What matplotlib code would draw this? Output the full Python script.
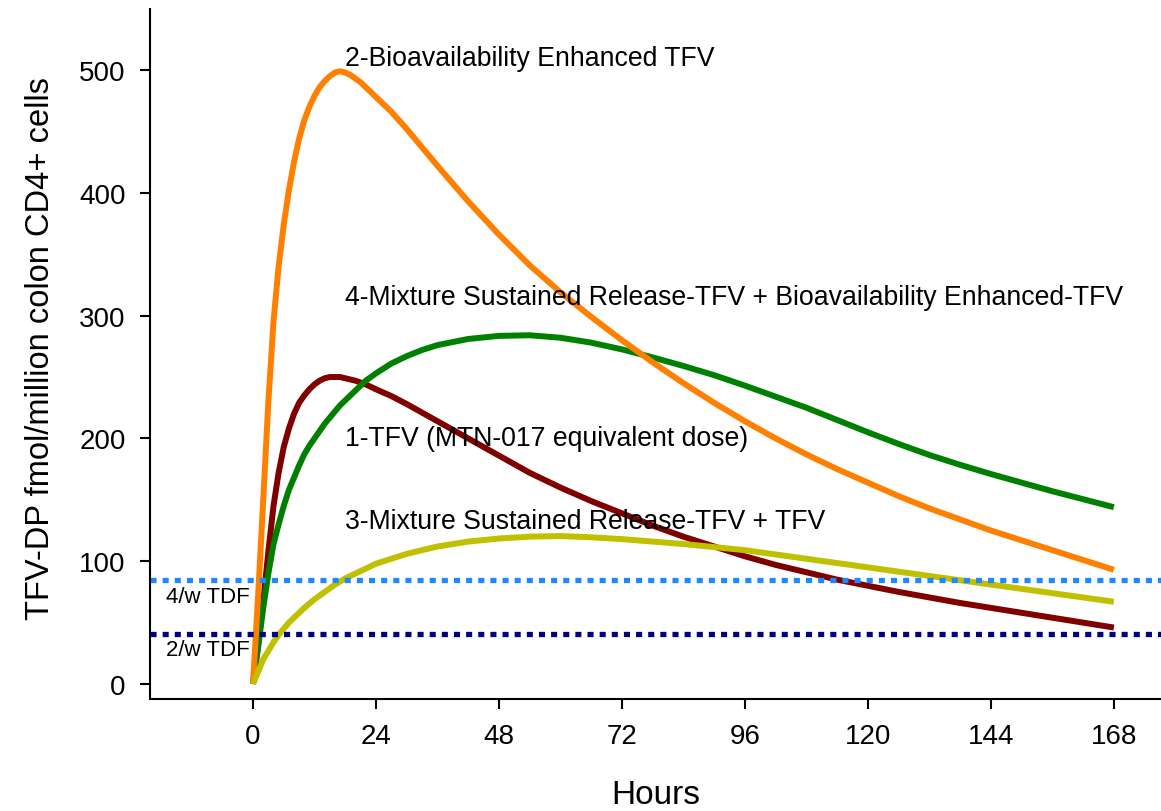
import numpy as np
import matplotlib
matplotlib.use("Agg")
import matplotlib.pyplot as plt

plt.rcParams['font.family'] = ['Liberation Sans', 'DejaVu Sans']

# hours after dose
hours = [0, 1, 2, 3, 4, 5, 6, 7, 8, 9, 10, 11, 12, 13, 14, 15, 16, 17, 18, 19, 20, 21, 22, 23, 24,
         27, 30, 33, 36, 42, 48, 54, 60, 66, 72, 78, 84, 90, 96, 102, 108, 114, 120, 126, 132,
         138, 144, 150, 156, 162, 168]

# TFV-DP fmol/million colon CD4+ cells
tfv_1 = [0, 32, 67, 108, 145, 172, 193, 208, 220, 229, 235, 240, 244, 247, 249, 250, 250, 250, 249, 248,
         247, 245.5, 244, 242, 240,
         234.5, 228, 221, 214, 200, 186, 172, 160, 149, 139, 129, 120, 112, 104, 97, 91, 85, 80, 75, 70.5,
         66, 62, 58, 54, 50, 46]
bio_2 = [0, 72, 150, 230, 295, 340, 374, 402, 425, 444, 459, 470, 479, 486, 491, 495, 498, 499, 498, 496,
         493, 490, 486, 482, 478,
         466, 452, 437, 422, 393, 366, 341, 319, 299, 280, 262, 245, 229, 214, 200, 187, 175, 164, 153, 143,
         134, 125, 117, 109, 101, 93]
mix_3 = [0, 10, 20, 27, 34, 40, 45, 50, 54, 58, 62, 65.5, 69, 72, 75, 78, 81, 83.5, 86, 88,
         90, 92, 94, 96, 98,
         102, 106, 109, 112, 116, 118.5, 120, 120.5, 119.5, 118, 116, 114, 111.5, 109, 105.5, 102, 98.5, 95, 91.5, 88,
         84.5, 81, 77.5, 74, 70.5, 67]
mix_4 = [0, 30, 62, 90, 114, 130, 145, 158, 168, 178, 187, 194, 200, 206, 212, 217, 222, 227, 231, 235,
         239, 243, 247, 250, 253,
         261, 267, 272, 276, 281, 283.5, 284, 282, 278, 272.5, 266, 259, 251.5, 243, 234, 225, 215, 205, 195.5, 186.5,
         178.5, 171, 164, 157, 150.5, 144]

labels = ["1-TFV (MTN-017 equivalent dose)",
          "2-Bioavailability Enhanced TFV",
          "3-Mixture Sustained Release-TFV + TFV",
          "4-Mixture Sustained Release-TFV + Bioavailability Enhanced-TFV"]
label_y = [200, 510, 133, 315]

# reference levels for oral TDF dosing
tdf_levels = [85, 41]
tdf_labels = ["4/w TDF", "2/w TDF"]

fig = plt.figure(figsize=(11.61, 8.12), dpi=100)
ax = fig.add_axes([150 / 1161, 112 / 812, 1011 / 1161, 690 / 812])

lw = 4.3
ax.plot(hours, tfv_1, color='#800000', lw=lw, solid_capstyle='butt')
ax.plot(hours, mix_4, color='#008000', lw=lw, solid_capstyle='butt')
ax.plot(hours, bio_2, color='#FF8000', lw=lw, solid_capstyle='butt')
ax.plot(hours, mix_3, color='#C0C000', lw=lw, solid_capstyle='butt')

ax.axhline(tdf_levels[0], color='#1E88FF', lw=3.8, dashes=(1.15, 1.15), dash_capstyle='butt')
ax.axhline(tdf_levels[1], color='#000080', lw=3.8, dashes=(1.15, 1.15), dash_capstyle='butt')

for txt, y in zip(labels, label_y):
    ax.text(18, y, txt, fontsize=19.2, ha='left', va='center')
ax.text(-17, 71, tdf_labels[0], fontsize=16, ha='left', va='center')
ax.text(-17, 28, tdf_labels[1], fontsize=16, ha='left', va='center')

ax.set_xlim(-20.1, 177.2)
ax.set_ylim(-12.2, 549.7)
ax.set_xticks(np.arange(0, 169, 24))
ax.set_yticks(np.arange(0, 501, 100))
ax.spines['top'].set_visible(False)
ax.spines['right'].set_visible(False)
ax.spines['left'].set_linewidth(1.5)
ax.spines['bottom'].set_linewidth(1.5)
ax.tick_params(direction='out', length=7.5, width=1.5, labelsize=20)
ax.tick_params(axis='y', pad=10)
ax.tick_params(axis='x', pad=10)

ax.set_xlabel("Hours", fontsize=24)
ax.xaxis.set_label_coords(0.5, -0.116)
ax.set_ylabel("TFV-DP fmol/million colon CD4+ cells", fontsize=23.5)
ax.yaxis.set_label_coords(-0.093, 0.51)

fig.savefig("out.png", dpi=100)
